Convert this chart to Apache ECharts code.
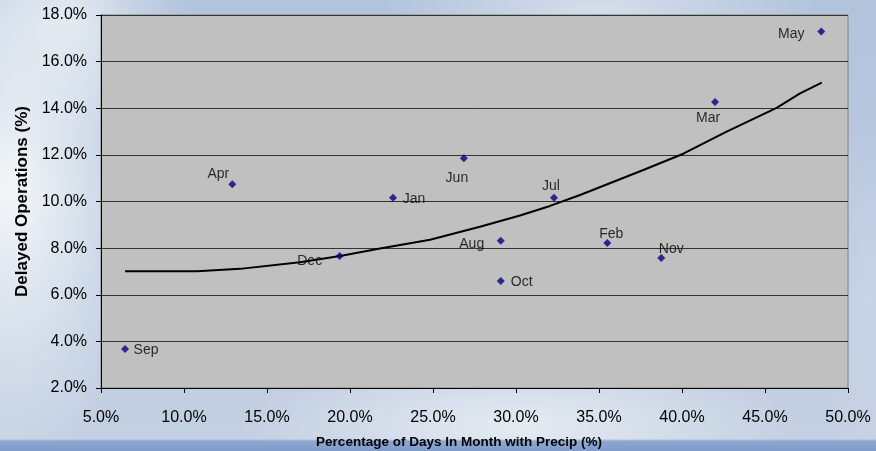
<!DOCTYPE html>
<html>
<head>
<meta charset="utf-8">
<script src="https://cdn.jsdelivr.net/npm/echarts@6/dist/echarts.min.js"></script>
<style>
html,body{margin:0;padding:0;}
body{width:876px;height:451px;overflow:hidden;
background:
 linear-gradient(to bottom, rgba(0,0,0,0) 0, rgba(0,0,0,0) 439px, #8ea8d2 441px, #7f9bc9 451px),
 radial-gradient(ellipse 150px 280px at 10px 190px, rgba(246,249,250,0.95), rgba(246,249,250,0) 100%),
 radial-gradient(ellipse 280px 80px at 520px 425px, rgba(232,238,244,0.9), rgba(232,238,244,0) 100%),
 radial-gradient(ellipse 220px 50px at 600px 8px, rgba(222,230,238,0.8), rgba(222,230,238,0) 100%),
 radial-gradient(ellipse 120px 120px at 70px 20px, rgba(232,238,243,0.8), rgba(232,238,243,0) 100%),
 radial-gradient(ellipse 60px 200px at 870px 300px, rgba(205,215,232,0.7), rgba(205,215,232,0) 100%),
 linear-gradient(to bottom, #b2c3dc, #bac9df 60%, #c4d0e2);}
#chart{width:876px;height:451px;}
</style>
</head>
<body>
<div id="chart"></div>
<script>
// Data
var months     = ['Sep','Apr','Dec','Jan','Jun','Aug','Oct','Jul','Feb','Nov','Mar','May'];
var precipPct  = [6.45, 12.91, 19.38, 22.59, 26.86, 29.08, 29.08, 32.29, 35.50, 38.75, 41.99, 48.39];
var delayedPct = [3.67, 10.74, 7.66, 10.16, 11.85, 8.32, 6.59, 10.16, 8.22, 7.58, 14.27, 17.29];

// Trend line
var trendX = [6.45, 10.80, 13.37, 16.99, 19.40, 21.81, 24.82, 27.83, 30.24, 32.05, 33.86, 37.67, 40.08, 42.69, 45.70, 47.11, 48.42];
var trendY = [7.01, 7.01, 7.11, 7.39, 7.66, 7.98, 8.36, 8.92, 9.40, 9.81, 10.28, 11.35, 12.05, 13.00, 14.02, 14.64, 15.10];

var xTicks = {min: 5, max: 50, interval: 5};
var yTicks = {min: 2, max: 18, interval: 2};

// label placement (style, per month)
var labelOffsets = {
  Sep:[21,1], Apr:[-14,-10], Dec:[-30,5], Jan:[21,1], Jun:[-7,20], Aug:[-29,3],
  Oct:[21,1], Jul:[-3,-12], Feb:[4,-9], Nov:[10,-9], Mar:[-7,16], May:[-30,3]
};

var font = 'Liberation Sans, Arial, sans-serif';
var pts = months.map(function(m,i){
  return {
    value:[precipPct[i], delayedPct[i]],
    name:m,
    label:{show:true, formatter:m, position:'inside', align:'center', verticalAlign:'middle',
      offset:labelOffsets[m], color:'#000', fontSize:14, fontFamily:font}
  };
});
var trend = trendX.map(function(x,i){return [x, trendY[i]];});

var chart = echarts.init(document.getElementById('chart'), null, {renderer:'canvas'});
chart.setOption({
  backgroundColor:'transparent',
  animation:false,
  grid:{left:101, right:28, top:15, bottom:63, containLabel:false, outerBoundsMode:'none',
        show:true, backgroundColor:'#c0c0c0', borderColor:'#808080', borderWidth:1},
  xAxis:{
    type:'value', min:xTicks.min, max:xTicks.max, interval:xTicks.interval,
    name:'Percentage of Days In Month with Precip (%)', nameLocation:'middle', nameGap:47,
    nameTextStyle:{fontFamily:font, fontWeight:'bold', fontSize:13.5, color:'#000', padding:[0,31,0,0]},
    axisLine:{show:true, lineStyle:{color:'#000', width:1}},
    axisTick:{show:true, inside:false, length:5, lineStyle:{color:'#000'}},
    axisLabel:{fontFamily:font, fontSize:16, color:'#000', margin:22, formatter:function(v){return v.toFixed(1)+'%';}},
    splitLine:{show:false}
  },
  yAxis:{
    type:'value', min:yTicks.min, max:yTicks.max, interval:yTicks.interval,
    name:'Delayed Operations (%)', nameLocation:'middle', nameGap:70,
    nameTextStyle:{fontFamily:font, fontWeight:'bold', fontSize:17, color:'#000'},
    axisLine:{show:true, lineStyle:{color:'#000', width:1}},
    axisTick:{show:true, inside:false, length:5, lineStyle:{color:'#000'}},
    axisLabel:{fontFamily:font, fontSize:16, color:'#000', margin:14, formatter:function(v){return v.toFixed(1)+'%';}},
    splitLine:{show:true, lineStyle:{color:'#333', width:1}}
  },
  series:[
    {type:'line', data:trend, showSymbol:false, symbol:'none', smooth:false,
     lineStyle:{color:'#000', width:2}, z:2, silent:true},
    {type:'scatter', data:pts, symbol:'diamond', symbolSize:8,
     itemStyle:{color:'#000080'}, z:3}
  ]
});
</script>
</body>
</html>
